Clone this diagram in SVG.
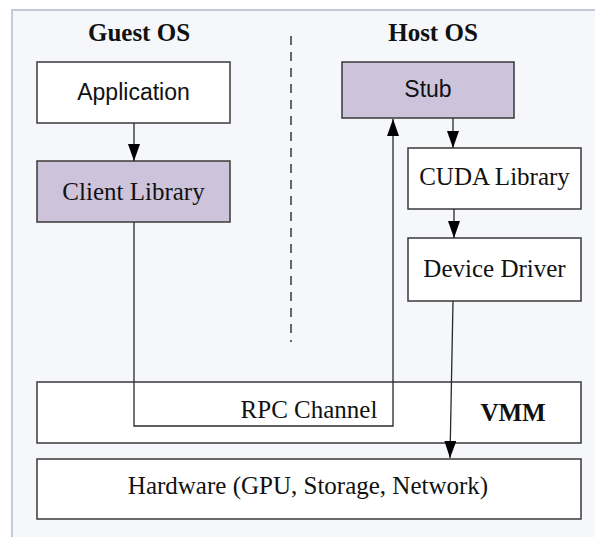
<svg xmlns="http://www.w3.org/2000/svg" width="595" height="537" viewBox="0 0 595 537">
<style>
.box{stroke:#3a3a3a;stroke-width:1.5}
.w{fill:#ffffff}
.p{fill:#cdc3da}
.serif{font-family:"Liberation Serif","Times New Roman",serif;font-size:25px;fill:#111;text-anchor:middle}
.bold{font-weight:bold}
.sans{font-family:"Liberation Sans",Arial,sans-serif;font-size:23px;fill:#111;text-anchor:middle}
.conn{fill:none;stroke:#2a2a2a;stroke-width:1.3}
</style>
<defs>
<marker id="arr" markerUnits="userSpaceOnUse" markerWidth="18" markerHeight="13" refX="17" refY="6" orient="auto">
<path d="M0,0 L17,6 L0,12 z" fill="#000"/>
</marker>
</defs>
<rect x="0" y="0" width="595" height="537" fill="#ffffff"/>
<rect x="12" y="10" width="590" height="540" fill="#f5f7fb" stroke="#c3cad8" stroke-width="2"/>
<line x1="291" y1="36" x2="291" y2="342" stroke="#666" stroke-width="2" stroke-dasharray="9 7"/>
<text class="serif bold" x="139" y="41">Guest OS</text>
<text class="serif bold" x="433" y="41">Host OS</text>
<g id="vmm">
<rect class="box w" x="37" y="382" width="544" height="61"/>
<text class="serif bold" x="513" y="421">VMM</text>
</g>
<g id="hardware">
<rect class="box w" x="37" y="459" width="544" height="60"/>
<text class="serif" x="308" y="494">Hardware (GPU, Storage, Network)</text>
</g>
<g id="application">
<rect class="box w" x="37" y="62" width="193" height="61"/>
<text class="sans" x="133.5" y="100">Application</text>
</g>
<g id="client-library">
<rect class="box p" x="37" y="161" width="193" height="61"/>
<text class="serif" x="133.5" y="200">Client Library</text>
</g>
<g id="stub">
<rect class="box p" x="342" y="62" width="172" height="56"/>
<text class="sans" x="428" y="97">Stub</text>
</g>
<g id="cuda-library">
<rect class="box w" x="408" y="148" width="173" height="61"/>
<text class="serif" x="494.5" y="185">CUDA Library</text>
</g>
<g id="device-driver">
<rect class="box w" x="408" y="238" width="173" height="63"/>
<text class="serif" x="494.5" y="277">Device Driver</text>
</g>
<g id="connectors">
<line class="conn" x1="134" y1="123" x2="134" y2="161" marker-end="url(#arr)"/>
<line class="conn" x1="453" y1="118" x2="453" y2="148" marker-end="url(#arr)"/>
<line class="conn" x1="454" y1="209" x2="454" y2="238" marker-end="url(#arr)"/>
<line class="conn" x1="453" y1="301" x2="450" y2="458" marker-end="url(#arr)"/>
<path class="conn" d="M134,222 V426 H393 V119" marker-end="url(#arr)"/>
<text class="serif" x="309" y="418">RPC Channel</text>
</g>
</svg>
